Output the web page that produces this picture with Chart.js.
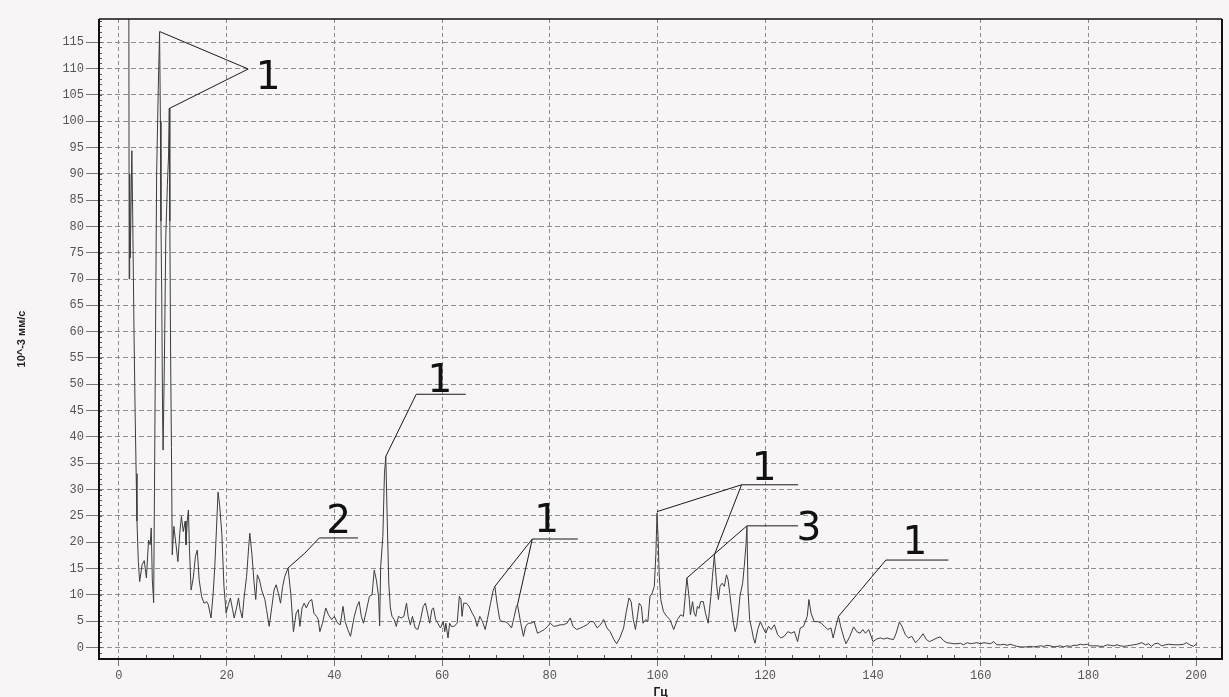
<!DOCTYPE html>
<html>
<head>
<meta charset="utf-8">
<title>Спектр виброскорости</title>
<script src="https://cdn.jsdelivr.net/npm/chart.js@4.4.1/dist/chart.umd.min.js"></script>
<style>
  html, body { margin: 0; padding: 0; background: #f7f5f6; }
  canvas { display: block; }
</style>
</head>
<body>
<canvas id="spectrum" width="1229" height="697"></canvas>
<script>
// spectrum: frequency in Гц, amplitude in 10^-3 мм/с
const freqHz = [
  1.8, 1.9, 2.0, 2.1, 2.4, 2.55, 2.8, 3.0, 3.2, 3.35, 3.6, 3.85, 4.3, 4.7, 5.1, 5.5, 5.8, 6.0, 6.2, 6.45,
  6.6, 6.8, 7.0, 7.3, 7.55, 7.7, 7.8, 7.95, 8.1, 8.2, 8.45, 8.7, 9.0, 9.2, 9.35, 9.45, 9.6, 9.75, 9.9,
  10.2, 10.6, 10.95, 11.3, 11.6, 11.95, 12.3, 12.45, 12.7, 12.9, 13.1, 13.4, 13.8, 14.2, 14.55, 14.9,
  15.35, 15.8, 16.3, 16.6, 17.1, 17.5, 17.8, 18.1, 18.4, 18.7, 19.1, 19.5, 19.9, 20.3, 20.7, 21.1, 21.4,
  21.9, 22.2, 22.5, 22.9, 23.2, 23.7, 24.1, 24.3, 24.7, 25.1, 25.4, 25.7, 26.1, 26.5, 27.1, 27.4, 27.9,
  28.4, 28.8, 29.2, 29.6, 30.0, 30.4, 30.8, 31.4, 31.9, 32.4, 32.9, 33.3, 33.6, 34.0, 34.4, 34.8, 35.3,
  35.8, 36.2, 36.7, 37.0, 37.3, 37.8, 38.4, 38.9, 39.5, 40.0, 40.6, 41.1, 41.6, 42.0, 42.5, 43.0, 43.7,
  44.2, 44.6, 45.0, 45.4, 45.9, 46.5, 47.0, 47.4, 47.8, 48.2, 48.4, 48.6, 49.0, 49.3, 49.55, 49.8, 50.1,
  50.4, 50.7, 51.1, 51.5, 51.9, 52.4, 52.9, 53.4, 53.7, 54.1, 54.5, 55.0, 55.5, 56.0, 56.5, 56.9, 57.3,
  57.7, 58.1, 58.4, 58.8, 59.2, 59.7, 60.2, 60.5, 60.7, 61.1, 61.4, 61.7, 62.2, 62.8, 63.2, 63.5, 63.7,
  64.0, 64.5, 65.0, 65.6, 66.1, 66.5, 67.0, 67.5, 68.0, 68.4, 69.0, 69.5, 69.8, 70.2, 70.7, 71.2, 71.7,
  72.2, 72.9, 73.4, 73.8, 74.0, 74.6, 75.1, 75.5, 76.0, 76.5, 77.1, 77.7, 78.3, 79.0, 79.6, 80.1, 80.7,
  81.3, 81.9, 82.5, 83.2, 83.8, 84.3, 85.0, 85.7, 86.3, 86.9, 87.5, 88.1, 88.8, 89.4, 90.0, 90.6, 91.2,
  91.9, 92.4, 93.0, 93.7, 94.2, 94.7, 95.1, 95.5, 95.9, 96.3, 96.6, 97.0, 97.3, 97.8, 98.2, 98.6, 99.0,
  99.4, 99.7, 99.9, 100.1, 100.3, 100.6, 101.1, 101.7, 102.3, 103.0, 103.7, 104.3, 104.8, 105.2, 105.45,
  105.9, 106.1, 106.5, 106.8, 107.1, 107.4, 107.7, 108.0, 108.5, 108.9, 109.4, 109.9, 110.2, 110.55,
  111.0, 111.3, 111.6, 112.0, 112.4, 112.8, 113.1, 113.4, 113.7, 114.1, 114.4, 114.7, 115.0, 115.3,
  115.8, 116.1, 116.4, 116.6, 116.8, 117.1, 117.5, 117.8, 118.1, 118.6, 119.1, 119.6, 120.1, 120.6,
  121.1, 121.7, 122.3, 122.9, 123.5, 124.2, 124.8, 125.4, 126.0, 126.5, 127.1, 127.8, 128.1, 128.5,
  129.1, 129.8, 130.4, 131.0, 131.6, 132.2, 132.6, 133.1, 133.6, 134.0, 134.6, 135.0, 135.7, 136.4,
  137.0, 137.6, 138.1, 138.6, 139.2, 140.0, 140.7, 141.4, 142.0, 142.6, 143.2, 143.8, 144.3, 144.9,
  145.4, 146.0, 146.6, 147.2, 147.9, 148.5, 149.3, 149.9, 150.5, 151.3, 151.9, 152.5, 153.1, 153.7,
  154.4, 155.0, 155.6, 156.2, 156.8, 157.5, 158.1, 158.7, 159.3, 159.9, 160.6, 161.2, 161.8, 162.4,
  163.0, 163.7, 164.3, 164.9, 165.5, 166.1, 166.7, 167.4, 168.0, 168.6, 169.2, 169.8, 170.5, 171.1,
  171.7, 172.3, 172.9, 173.6, 174.2, 174.8, 175.4, 176.0, 176.7, 177.3, 177.9, 178.5, 179.1, 179.8,
  180.4, 181.0, 181.6, 182.2, 182.8, 183.5, 184.1, 184.7, 185.3, 185.9, 186.6, 187.2, 187.8, 188.4,
  189.0, 189.9, 190.6, 191.2, 191.7, 192.3, 192.9, 193.6, 194.3, 194.9, 195.9, 196.8, 197.7, 198.2,
  198.8, 199.5, 200.1
];
const amplitude = [
  160, 70, 90, 74, 94.4, 82.5, 60, 45, 33, 24, 16.3, 12.5, 15.7, 16.5, 13.2, 20.4, 19.5, 22.7, 12.8, 8.5,
  30, 60, 90, 106, 117, 100, 81, 67, 45, 37.5, 55, 78, 88, 93, 102.4, 81, 55, 38, 17.6,
  23, 19.5, 16.3, 21.7, 24.9, 22, 24, 19.5, 24.2, 26.1, 18.5, 10.9, 13.2, 17.3, 18.5, 12.8,
  9.7, 8.4, 8.7, 8.1, 5.6, 10.3, 15.4, 22.3, 29.5, 27, 21.7, 11.6, 6.5, 8.1, 9.4, 7.2, 5.6,
  7.8, 9.4, 7.2, 5.6, 9.1, 13.5, 19.2, 21.7, 17.6, 12.2, 9.1, 13.8, 12.8, 10.9, 9.1, 7.2, 4.0,
  7.8, 10.9, 11.9, 10.3, 8.4, 11.6, 13.5, 15.1, 10.3, 3.0, 6.5, 7.2, 4.0, 7.5, 8.4, 7.5, 8.7,
  9.1, 6.5, 5.9, 5.3, 3.0, 4.6, 7.5, 6.2, 5.3, 5.9, 4.6, 4.3, 7.8, 4.9, 3.4, 2.1, 5.9,
  7.8, 8.7, 5.9, 4.6, 6.8, 9.7, 10.0, 14.7, 12.8, 9.7, 4.1, 15.4, 21.1, 33.1, 36.3, 24.9, 12.2,
  7.5, 5.9, 5.3, 4.0, 5.9, 5.6, 5.9, 8.4, 5.9, 4.3, 5.9, 3.7, 3.4, 5.3, 7.8, 8.4, 6.5,
  4.6, 7.2, 7.5, 5.3, 4.6, 3.7, 4.9, 3.0, 4.6, 1.8, 4.6, 4.0, 4.0, 4.6, 9.7, 9.1, 5.9,
  8.4, 8.4, 7.8, 6.5, 5.6, 4.0, 5.9, 4.9, 3.4, 5.3, 8.4, 10.9, 11.6, 8.4, 5.3, 4.9, 4.9,
  4.6, 3.7, 5.9, 7.8, 8.1, 4.6, 2.1, 4.0, 4.6, 4.6, 4.9, 2.7, 3.0, 3.4, 4.0, 4.6, 4.0,
  4.1, 4.3, 4.3, 4.6, 5.6, 4.0, 3.4, 3.7, 4.0, 4.3, 4.9, 4.9, 3.7, 4.3, 5.3, 3.7, 3.0,
  1.5, 0.7, 1.8, 3.7, 6.8, 9.4, 8.7, 5.3, 3.4, 6.2, 8.4, 7.8, 4.6, 5.3, 4.9, 9.7, 10.3,
  11.6, 17.9, 25.5, 21.0, 14.0, 9.1, 6.8, 5.9, 5.3, 3.4, 5.3, 6.2, 5.9, 10.3, 13.2,
  9.1, 6.2, 8.7, 6.5, 5.9, 7.8, 7.4, 8.7, 8.7, 6.5, 4.6, 9.7, 13.5, 17.6,
  11.6, 9.1, 11.6, 12.2, 11.6, 13.8, 12.8, 10.3, 7.8, 4.6, 3.0, 4.0, 6.5, 9.7,
  12.2, 15.4, 19.2, 23.0, 10.9, 5.3, 3.4, 1.8, 0.8, 3.4, 4.9, 3.7, 2.7, 4.0,
  3.4, 4.3, 2.4, 1.8, 2.1, 3.0, 2.7, 3.0, 1.1, 3.7, 4.0, 5.9, 9.1, 6.5,
  4.9, 4.9, 4.6, 4.0, 3.4, 3.7, 1.8, 4.0, 5.9, 4.0, 1.8, 0.7, 2.1, 3.9,
  3.0, 2.7, 3.4, 2.7, 3.4, 1.1, 1.6, 1.8, 1.6, 1.8, 1.6, 1.5, 2.7, 4.8,
  4.0, 2.4, 1.8, 2.1, 0.9, 1.5, 2.6, 1.5, 1.1, 1.5, 1.8, 2.0, 1.3, 0.9,
  0.8, 0.7, 0.7, 0.8, 0.5, 0.9, 0.7, 0.8, 0.9, 0.7, 0.9, 0.8, 0.7, 1.1,
  0.5, 0.5, 0.6, 0.4, 0.6, 0.4, 0.2, 0.1, 0.1, 0.1, 0.2, 0.1, 0.2, 0.3,
  0.2, 0.4, 0.3, 0.1, 0.2, 0.3, 0.1, 0.3, 0.2, 0.4, 0.4, 0.6, 0.5, 0.6,
  0.3, 0.3, 0.3, 0.2, 0.2, 0.5, 0.4, 0.3, 0.5, 0.3, 0.2, 0.3, 0.4, 0.5,
  0.6, 0.9, 0.5, 0.7, 0.2, 0.7, 0.8, 0.3, 0.5, 0.6, 0.5, 0.5, 0.6, 0.9,
  0.5, 0.2, 0.7
];
const xTickValues = [0, 20, 40, 60, 80, 100, 120, 140, 160, 180, 200];
const yTickValues = [0, 5, 10, 15, 20, 25, 30, 35, 40, 45, 50, 55, 60, 65, 70, 75, 80, 85, 90, 95, 100, 105, 110, 115];

// numbered leader lines drawn over the plot, in data units (Гц, 10^-3 мм/с)
const callouts = [
  { label: '1', at: [27.7, 106.1], paths: [[[7.6, 117], [24.0, 109.9], [9.35, 102.4]]] },
  { label: '1', at: [59.6, 48.6], paths: [[[49.55, 36.3], [55.2, 48.1], [64.4, 48.1]]] },
  { label: '2', at: [40.8, 21.8], paths: [[[31.4, 15.1], [34.5, 17.9], [37.2, 20.8], [44.4, 20.8]]] },
  { label: '1', at: [79.4, 21.9], paths: [[[69.8, 11.6], [76.75, 20.6], [85.2, 20.6]], [[74.0, 8.1], [76.75, 20.6]]] },
  { label: '1', at: [119.8, 31.8], paths: [[[99.9, 25.8], [115.6, 30.9], [126.1, 30.9]], [[110.55, 17.6], [115.6, 30.9]]] },
  { label: '3', at: [128.1, 20.4], paths: [[[105.45, 13.2], [116.6, 23.1], [126.1, 23.1]]] },
  { label: '1', at: [147.8, 17.8], paths: [[[133.6, 5.9], [142.4, 16.6], [154.0, 16.6]]] }
];

const decor = {
  id: 'decor',
  beforeDraw(chart) {
    const ctx = chart.ctx;
    ctx.save();
    ctx.fillStyle = '#f7f5f6';
    ctx.fillRect(0, 0, chart.width, chart.height);
    ctx.restore();
  },
  afterDatasetsDraw(chart) {
    const {ctx, chartArea: a, scales: {x, y}} = chart;
    ctx.save();

    // small ticks inside the frame
    ctx.strokeStyle = '#555';
    ctx.lineWidth = 1;
    ctx.beginPath();
    for (let f = 5; f <= 200; f += 5) {
      if (f % 20 === 0) continue;
      const px = Math.round(x.getPixelForValue(f)) + 0.5;
      ctx.moveTo(px, a.bottom);
      ctx.lineTo(px, a.bottom - 4);
    }
    for (let v = -2; v <= 119; v++) {
      const py = Math.round(y.getPixelForValue(v)) + 0.5;
      ctx.moveTo(a.left, py);
      ctx.lineTo(a.left + 3, py);
    }
    ctx.stroke();

    // frame
    ctx.strokeStyle = '#111';
    ctx.lineWidth = 2;
    ctx.beginPath();
    ctx.moveTo(a.left, a.top);
    ctx.lineTo(a.left, a.bottom);
    ctx.lineTo(a.right, a.bottom);
    ctx.lineTo(a.right, a.top);
    ctx.stroke();
    ctx.lineWidth = 1.5;
    ctx.beginPath();
    ctx.moveTo(a.left, a.top);
    ctx.lineTo(a.right, a.top);
    ctx.stroke();

    // callouts
    ctx.strokeStyle = '#1a1a1a';
    ctx.lineWidth = 1;
    ctx.fillStyle = '#111';
    ctx.font = '39px "DejaVu Sans"';
    ctx.textAlign = 'center';
    ctx.textBaseline = 'alphabetic';
    callouts.forEach(c => {
      c.paths.forEach(path => {
        ctx.beginPath();
        path.forEach(([f, v], i) => {
          const px = x.getPixelForValue(f), py = y.getPixelForValue(v);
          if (i) ctx.lineTo(px, py); else ctx.moveTo(px, py);
        });
        ctx.stroke();
      });
      ctx.fillText(c.label, x.getPixelForValue(c.at[0]), y.getPixelForValue(c.at[1]));
    });
    ctx.restore();
  }
};

const tickFont = { family: '"Liberation Mono", "DejaVu Sans Mono", monospace', size: 12 };

new Chart(document.getElementById('spectrum'), {
  type: 'line',
  data: {
    datasets: [{
      data: freqHz.map((f, i) => ({ x: f, y: amplitude[i] })),
      borderColor: '#3d3d3d',
      borderWidth: 1,
      pointRadius: 0,
      tension: 0,
      fill: false
    }]
  },
  options: {
    responsive: false,
    animation: false,
    events: [],
    layout: { padding: { top: 19, right: 7, left: 0, bottom: 0 } },
    plugins: { legend: { display: false }, tooltip: { enabled: false } },
    scales: {
      x: {
        type: 'linear',
        min: -3.7,
        max: 204.8,
        afterBuildTicks: s => { s.ticks = xTickValues.map(v => ({ value: v })); },
        afterFit: s => { s.height = 38; },
        ticks: { autoSkip: false, maxRotation: 0, padding: 3, color: '#555', font: tickFont },
        grid: { color: '#8e8e8e', tickColor: '#777', tickLength: 7, tickBorderDash: [] },
        border: { display: false, dash: [4, 3] },
        title: {
          display: true, text: 'Гц', color: '#222',
          font: { family: '"Liberation Sans", Arial, sans-serif', size: 12, weight: 'bold' },
          padding: { top: 0, bottom: -3 }
        }
      },
      y: {
        type: 'linear',
        min: -2.2,
        max: 119.4,
        afterBuildTicks: s => { s.ticks = yTickValues.map(v => ({ value: v })); },
        afterFit: s => { s.width = 99; },
        ticks: { autoSkip: false, padding: 2, color: '#555', font: tickFont },
        grid: { color: '#8e8e8e', tickColor: '#777', tickLength: 13, tickBorderDash: [] },
        border: { display: false, dash: [5, 3] },
        title: {
          display: true, text: '10^-3 мм/с', color: '#222',
          font: { family: '"Liberation Sans", Arial, sans-serif', size: 11, weight: 'bold' },
          padding: { top: 15, bottom: 0 }
        }
      }
    }
  },
  plugins: [decor]
});
</script>
</body>
</html>
